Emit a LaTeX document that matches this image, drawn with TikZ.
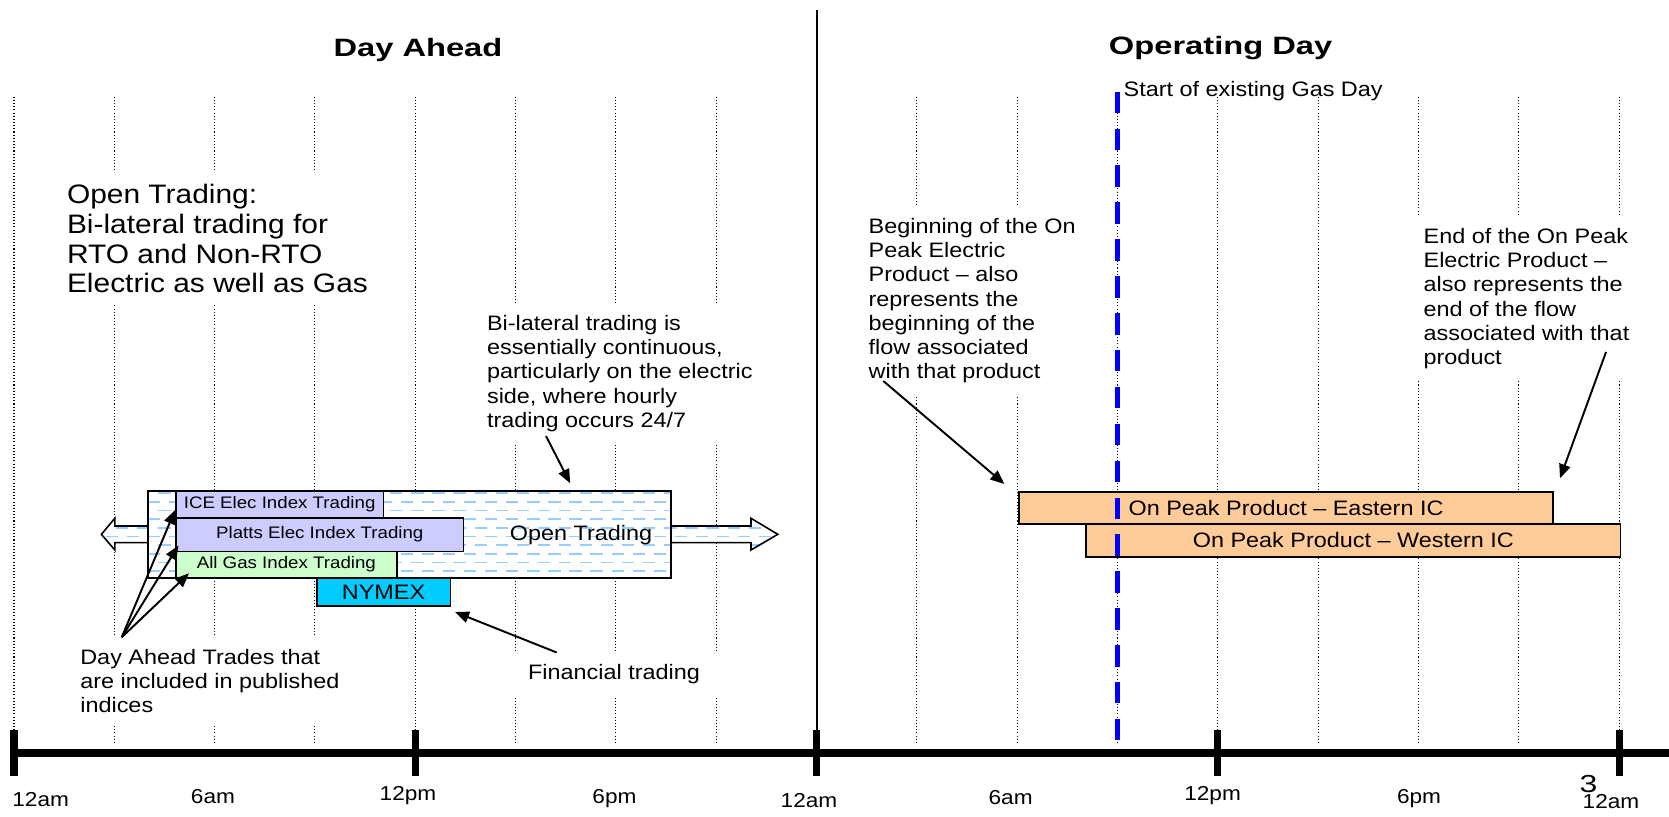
\documentclass[tikz,border=0pt]{standalone}
\usepackage{fontspec}
\setmainfont{Liberation Sans}[FakeStretch=1.12]
\newfontfamily\titlefont{Liberation Sans}[FakeStretch=1.3]
\usetikzlibrary{arrows.meta}
\definecolor{hatchblue}{HTML}{99CCFF}
\definecolor{lav}{HTML}{CCCCFF}
\definecolor{mint}{HTML}{CCFFCC}
\definecolor{nymexc}{HTML}{00CCFF}
\definecolor{peach}{HTML}{FFCC99}
\definecolor{gasblue}{HTML}{0000FF}
\begin{document}
\begin{tikzpicture}[x=0.02cm,y=-0.02cm,
  dotline/.style={line width=0.6pt, dash pattern=on 0.6pt off 1.2pt},
  bodytxt/.style={font=\fontsize{11.9}{13.8}\selectfont, align=left, fill=white, inner xsep=5pt, inner ysep=7pt, anchor=north west},
  boxlbl/.style={draw=black, line width=0.9pt, inner sep=0pt, anchor=north west, font=\fontsize{9.5}{11}\selectfont},
  peachbox/.style={draw=black, fill=peach, line width=1.1pt, inner sep=0pt, anchor=north west, font=\fontsize{11.9}{13}\selectfont},
  arr/.style={line width=1.1pt, -{Triangle[length=8pt,width=6.5pt]}},
  hatch/.style={hatchblue, line width=1pt, dash pattern=on 7pt off 5pt},
  axislbl/.style={font=\fontsize{11.5}{13}\selectfont, anchor=base, inner sep=0pt},
  titletxt/.style={font=\titlefont\bfseries\fontsize{14.3}{16}\selectfont, anchor=base, inner sep=0pt},
  tickline/.style={line width=4pt}
]
\fill[white] (0,0) rectangle (1669,817);
\useasboundingbox (0,0) rectangle (1669,817);

% dotted hour grid
\foreach \t in {0,3,6,9,12,15,18,21,27,30,33,36,39,42,45,48}
  \draw[dotline] ({14+33.44*\t},96.7) -- ({14+33.44*\t},745);

% double block arrow (open trading continues)
\begin{scope}
  \clip (101.4,534.3) -- (114.8,518.3) -- (114.8,526) -- (751,526) -- (751,518.3) -- (777.8,534.3) -- (751,550) -- (751,542.7) -- (114.8,542.7) -- (114.8,550) -- cycle;
  \fill[white] (90,510) rectangle (790,560);
  \foreach \yy in {493.3,510.6,527.9,545.2,562.5} \draw[hatch] (95,\yy) -- (785,\yy);
  \foreach \yy in {502,519.3,536.6,553.9,571.2} \draw[hatch, dash phase=6pt] (95,\yy) -- (785,\yy);
\end{scope}
\draw[line width=0.9pt] (101.4,534.3) -- (114.8,518.3) -- (114.8,526) -- (751,526) -- (751,518.3) -- (777.8,534.3) -- (751,550) -- (751,542.7) -- (114.8,542.7) -- (114.8,550) -- cycle;

% open trading rectangle
\node[anchor=north west, minimum width=297.2pt, minimum height=49.3pt, inner sep=0pt, fill=white] (otr) at (148.3,490.7) {};
\begin{scope}
  \clip (otr.north west) rectangle (otr.south east);
  \foreach \yy in {493.3,510.6,527.9,545.2,562.5} \draw[hatch] (95,\yy) -- (785,\yy);
  \foreach \yy in {502,519.3,536.6,553.9,571.2} \draw[hatch, dash phase=6pt] (95,\yy) -- (785,\yy);
\end{scope}
\draw[line width=1.1pt] (otr.north west) rectangle (otr.south east);
\node[font=\fontsize{11.9}{13}\selectfont, inner sep=0pt] (otrlbl) at (581,535) {Open Trading};

% index boxes
\node[boxlbl, fill=lav, minimum width=118.1pt, minimum height=15pt] (ice) at (175.1,490.7) {ICE Elec Index Trading};
\node[boxlbl, fill=lav, minimum width=163.8pt, minimum height=19.1pt] (platts) at (175.1,517) {Platts Elec Index Trading};
\node[boxlbl, fill=mint, minimum width=125.7pt, minimum height=15.2pt] (gas) at (175.1,550.5) {All Gas Index Trading};
\node[boxlbl, fill=nymexc, minimum width=76pt, minimum height=15.8pt, font=\fontsize{11.9}{13}\selectfont] (nymex) at (316,577.3) {NYMEX};

% on peak products
\node[peachbox, minimum width=304.1pt, minimum height=18.2pt] (east) at (1017.9,490.7) {On Peak Product -- Eastern IC};
\node[peachbox, minimum width=304.1pt, minimum height=18.9pt] (west) at (1085.2,522.7) {On Peak Product -- Western IC};

% gas day start
\draw[gasblue, line width=2.6pt, dash pattern=on 12.2pt off 8.8pt] (1117.5,91.7) -- (1117.5,742);
\node[font=\fontsize{11.9}{13}\selectfont, anchor=base west, inner sep=0pt] (gasday) at (1123.3,96.7) {Start of existing Gas Day};

% text blocks
\node[bodytxt, font=\fontsize{15.2}{16.8}\selectfont] (opentxt) at (57.9,172) {Open Trading:\\Bi-lateral trading for\\RTO and Non-RTO\\Electric as well as Gas};
\node[bodytxt] (bilat) at (477.9,302.6) {Bi-lateral trading is\\essentially continuous,\\particularly on the electric\\side, where hourly\\trading occurs 24/7};
\node[bodytxt] (begintxt) at (859.5,205.6) {Beginning of the On\\Peak Electric\\Product -- also\\represents the\\beginning of the\\flow associated\\with that product};
\node[bodytxt] (endtxt) at (1414.5,215.6) {End of the On Peak\\Electric Product --\\also represents the\\end of the flow\\associated with that\\product};
\node[bodytxt] (datrades) at (71.2,636.6) {Day Ahead Trades that\\are included in published\\indices};
\node[font=\fontsize{11.9}{13}\selectfont, fill=white, anchor=base, minimum width=130pt, inner xsep=0pt, inner ysep=7pt] (fin) at (614,679) {Financial trading};

% connector end points
\coordinate (c0) at (121.7,637.3);
\coordinate (t1) at (175.1,510);
\coordinate (t2) at (178.5,545.5);
\coordinate (t3) at (189,573.3);
\coordinate (b0) at (546,436);
\coordinate (b1) at (570.2,483.3);
\coordinate (f0) at (556.7,652.5);
\coordinate (f1) at (455,612);
\coordinate (g0) at (883.3,381);
\coordinate (g1) at (1004.4,484);
\coordinate (e0) at (1606,352);
\coordinate (e1) at (1560,478.3);

\draw[arr] (c0) -- (t1);
\draw[arr] (c0) -- (t2);
\draw[arr] (c0) -- (t3);
\draw[arr] (b0) -- (b1);
\draw[arr] (f0) -- (f1);
\draw[arr] (g0) -- (g1);
\draw[arr] (e0) -- (e1);

% divider and time axis
\draw[line width=1.3pt] (816.8,10) -- (816.8,753);
\draw[tickline] (12,753) -- (1669,753);
\foreach \t in {0,12,24,36,48}
  \draw[tickline] ({14+33.44*\t},730) -- ({14+33.44*\t},776);

\node[axislbl, anchor=base west] (l0) at (12,806) {12am};
\node[axislbl] (l1) at (213,803.5) {6am};
\node[axislbl] (l2) at (408,800) {12pm};
\node[axislbl] (l3) at (614.5,803) {6pm};
\node[axislbl] (l4) at (809,807) {12am};
\node[axislbl] (l5) at (1010.6,804) {6am};
\node[axislbl] (l6) at (1212.6,800.3) {12pm};
\node[axislbl] (l7) at (1419,803.6) {6pm};
\node[axislbl] (l8) at (1611,808) {12am};
\node[font=\titlefont\fontsize{14}{16}\selectfont, anchor=base, inner sep=0pt] (pg) at (1588.5,792) {3};

% titles
\node[titletxt] (dayahead) at (418,56.7) {Day Ahead};
\node[titletxt] (opday) at (1220.6,54.3) {Operating Day};
\end{tikzpicture}
\end{document}
